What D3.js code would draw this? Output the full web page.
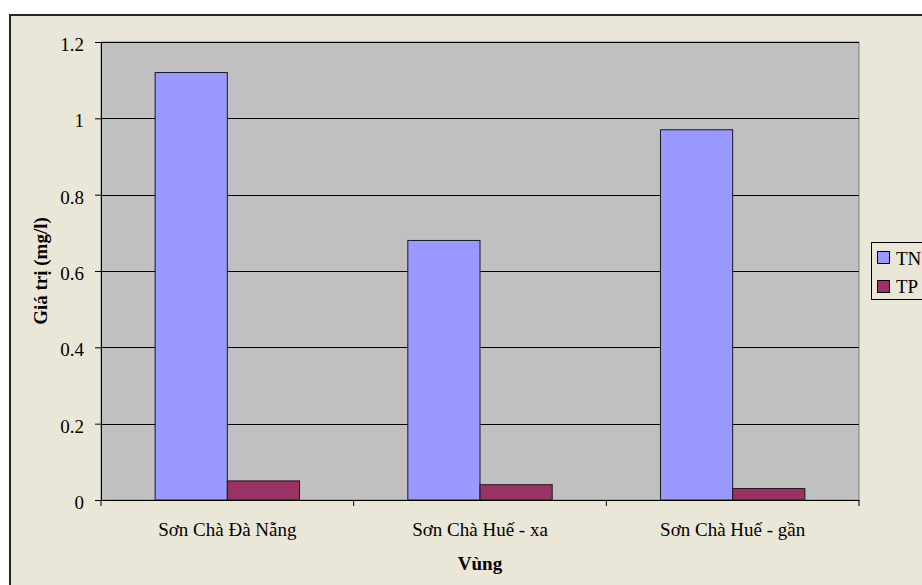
<!DOCTYPE html>
<html>
<head>
<meta charset="utf-8">
<script src="https://cdn.jsdelivr.net/npm/d3@7"></script>
<style>
  html, body { margin: 0; padding: 0; background: #ffffff; overflow: hidden; }
  svg { display: block; }
  text { font-family: "Liberation Serif", "Times New Roman", serif; fill: #000; }
</style>
</head>
<body>
<svg id="chart" width="922" height="585"></svg>
<script>
// Nutrient concentrations per sampling area
const categories = ["Sơn Chà Đà Nẵng", "Sơn Chà Huế - xa", "Sơn Chà Huế - gần"];
const seriesNames = ["TN", "TP"];
const tnValues = [1.12, 0.68, 0.97];
const tpValues = [0.05, 0.04, 0.03];
const yTicks = [0, 0.2, 0.4, 0.6, 0.8, 1, 1.2];
const seriesColors = ["#9999FF", "#993366"];

const FONT = "Liberation Serif";
const FS = "19px";

const svg = d3.select("#chart");
const plot = { left: 101, top: 42, right: 859, bottom: 500 };

// chart background with dark outline
svg.append("rect")
  .attr("x", 10).attr("y", 15)
  .attr("width", 940).attr("height", 600)
  .attr("fill", "#EBE7D8")
  .attr("stroke", "#262626").attr("stroke-width", 2);

// plot area
svg.append("rect")
  .attr("x", plot.left).attr("y", plot.top)
  .attr("width", plot.right - plot.left).attr("height", plot.bottom - plot.top)
  .attr("fill", "#C0C0C0")
  .attr("stroke", "#808080").attr("stroke-width", 1);

const y = d3.scaleLinear().domain([0, 1.2]).range([plot.bottom, plot.top]);
const x0 = d3.scaleBand().domain(categories).range([plot.left, plot.right]).paddingInner(0).paddingOuter(0);
// two bars per group with gap = 1.5 bar widths
const x1 = d3.scaleBand().domain(seriesNames).range([0, x0.bandwidth()]).paddingInner(0).paddingOuter(0.75);

// horizontal gridlines
svg.append("g")
  .selectAll("line")
  .data(yTicks.filter(d => d > 0))
  .join("line")
  .attr("x1", plot.left).attr("x2", plot.right)
  .attr("y1", d => Math.round(y(d)) + 0.5).attr("y2", d => Math.round(y(d)) + 0.5)
  .attr("stroke", "#000").attr("stroke-width", 1);

// bars
const rows = categories.map((c, i) => ({ cat: c, vals: [tnValues[i], tpValues[i]] }));
const groups = svg.append("g").selectAll("g")
  .data(rows).join("g")
  .attr("transform", d => `translate(${x0(d.cat)},0)`);
groups.selectAll("rect")
  .data(d => d.vals.map((v, j) => ({ name: seriesNames[j], v, j })))
  .join("rect")
  .attr("x", d => x1(d.name))
  .attr("y", d => y(d.v))
  .attr("width", x1.bandwidth())
  .attr("height", d => y(0) - y(d.v))
  .attr("fill", d => seriesColors[d.j])
  .attr("stroke", "#1a1a1a").attr("stroke-width", 1);

// y axis
const yAxis = d3.axisLeft(y).tickValues(yTicks).tickSize(6).tickPadding(11)
  .tickFormat(d => d3.format("")(d));
const gy = svg.append("g").attr("transform", `translate(${plot.left},0)`).call(yAxis);
gy.attr("font-family", FONT);
gy.select(".domain").attr("stroke", "#000");
gy.selectAll(".tick line").attr("stroke", "#000");
gy.selectAll(".tick text").attr("dy", "0.45em").style("font-size", FS).style("font-family", FONT);

// x axis
const xAxis = d3.axisBottom(x0).tickSize(0).tickPadding(23);
const gx = svg.append("g").attr("transform", `translate(0,${plot.bottom})`).call(xAxis);
gx.attr("font-family", FONT);
gx.select(".domain").attr("stroke", "#000");
gx.selectAll(".tick text").style("font-size", FS).style("font-family", FONT);
// category separators
svg.append("g").selectAll("line")
  .data([plot.left, ...categories.map(c => x0(c) + x0.bandwidth())])
  .join("line")
  .attr("x1", d => d).attr("x2", d => d)
  .attr("y1", plot.bottom).attr("y2", plot.bottom + 6)
  .attr("stroke", "#000");

// axis titles
svg.append("text")
  .attr("x", (plot.left + plot.right) / 2).attr("y", 570)
  .attr("text-anchor", "middle")
  .style("font-family", FONT).style("font-size", FS).style("font-weight", "bold")
  .text("Vùng");
svg.append("text")
  .attr("transform", `translate(47,${(plot.top + plot.bottom) / 2}) rotate(-90)`)
  .attr("text-anchor", "middle")
  .style("font-family", FONT).style("font-size", FS).style("font-weight", "bold")
  .text("Giá trị (mg/l)");

// legend
const lg = svg.append("g").attr("transform", "translate(871,242)");
lg.append("rect").attr("x", 0.5).attr("y", 0.5).attr("width", 80).attr("height", 57)
  .attr("fill", "#EBE7D8").attr("stroke", "#000");
seriesNames.forEach((n, i) => {
  lg.append("rect").attr("x", 6.5).attr("y", 9.5 + i * 29).attr("width", 12).attr("height", 12)
    .attr("fill", seriesColors[i]).attr("stroke", "#000");
  lg.append("text").attr("x", 25).attr("y", 23 + i * 28)
    .style("font-family", FONT).style("font-size", FS).text(n);
});
</script>
</body>
</html>
